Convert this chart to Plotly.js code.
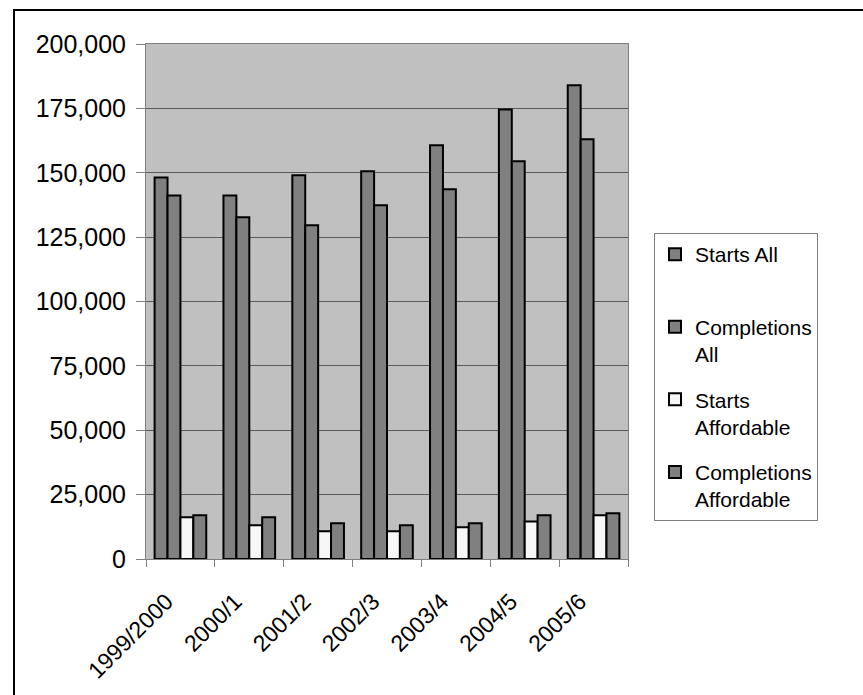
<!DOCTYPE html>
<html>
<head>
<meta charset="utf-8">
<script src="https://cdn.plot.ly/plotly-3.0.1.min.js"></script>
<style>
  html, body { margin: 0; padding: 0; background: #ffffff; }
  #chart { width: 863px; height: 695px; }
</style>
</head>
<body>
<div id="chart"></div>
<script>
// Housing starts and completions by financial year
const years = ['1999/2000', '2000/1', '2001/2', '2002/3', '2003/4', '2004/5', '2005/6'];
const startsAll = [148200, 141200, 149000, 150600, 160700, 174600, 184000];
const completionsAll = [141200, 132700, 129600, 137400, 143600, 154500, 163000];
const startsAffordable = [16200, 13100, 10800, 10800, 12300, 14600, 17000];
const completionsAffordable = [17000, 16200, 13900, 13100, 13900, 17000, 17800];
// legend entries are wrapped over two lines each (the first one keeps a blank second line)
const seriesNames = ['Starts All<br>&nbsp;', 'Completions<br>All', 'Starts<br>Affordable', 'Completions<br>Affordable'];
const yTicks = [0, 25000, 50000, 75000, 100000, 125000, 150000, 175000, 200000];

const FONT = '"Liberation Sans", Arial, Helvetica, sans-serif';
const W = 863, H = 695;
const M = { l: 146, r: 235, t: 44, b: 136 };
const plotW = W - M.l - M.r, plotH = H - M.t - M.b;
const px2x = px => (px - M.l) / plotW;
const px2y = py => (H - M.b - py) / plotH;

const series = [startsAll, completionsAll, startsAffordable, completionsAffordable];
const fills = ['#808080', '#808080', '#f7f7f7', '#808080'];

const traces = series.map((vals, i) => ({
  type: 'bar',
  name: seriesNames[i],
  x: years,
  y: vals,
  legendgroup: 'g' + i,
  marker: { color: fills[i], line: { color: '#000000', width: 2 } },
  hoverinfo: 'x+y'
}));

const layout = {
  width: W,
  height: H,
  margin: M,
  paper_bgcolor: '#ffffff',
  plot_bgcolor: '#c0c0c0',
  barmode: 'group',
  bargap: 0.25,
  bargroupgap: 0,
  font: { family: FONT, color: '#000000', size: 22 },
  showlegend: true,
  legend: {
    x: px2x(654), xanchor: 'left',
    y: px2y(233), yanchor: 'top',
    bgcolor: '#ffffff',
    bordercolor: '#808080',
    borderwidth: 1,
    font: { family: FONT, size: 21, color: '#000000' },
    traceorder: 'grouped',
    tracegroupgap: 15,
    valign: 'top'
  },
  xaxis: {
    type: 'category',
    tickson: 'boundaries',
    ticks: 'outside',
    ticklen: 7,
    tickcolor: '#808080',
    tickwidth: 1,
    tickangle: -45,
    ticklabelstandoff: 19,
    ticklabelshift: -14,
    tickfont: { family: FONT, size: 23, color: '#000000' },
    showline: true,
    linecolor: '#808080',
    linewidth: 1,
    mirror: true,
    showgrid: false,
    zeroline: false
  },
  yaxis: {
    range: [0, 200000],
    tickvals: yTicks,
    tickformat: ',',
    ticks: 'outside',
    ticklen: 9,
    tickcolor: '#808080',
    tickwidth: 1,
    ticklabelstandoff: 5,
    tickfont: { family: FONT, size: 25, color: '#000000' },
    showline: true,
    linecolor: '#808080',
    linewidth: 1,
    mirror: true,
    showgrid: true,
    gridcolor: '#5a5a5a',
    gridwidth: 1,
    zeroline: false
  },
  shapes: [{
    type: 'rect', xref: 'paper', yref: 'paper',
    x0: px2x(14), x1: px2x(880),
    y0: px2y(710), y1: px2y(10),
    line: { color: '#000000', width: 2 },
    fillcolor: 'rgba(0,0,0,0)',
    layer: 'above'
  }]
};

Plotly.newPlot('chart', traces, layout, { displayModeBar: false, staticPlot: true });
</script>
</body>
</html>
